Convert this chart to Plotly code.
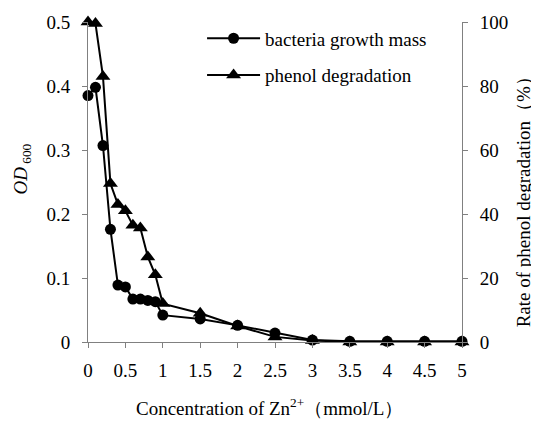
import plotly.graph_objects as go

conc = [0, 0.1, 0.2, 0.3, 0.4, 0.5, 0.6, 0.7, 0.8, 0.9, 1.0, 1.5, 2, 2.5, 3, 3.5, 4, 4.5, 5]
od600 = [0.385, 0.398, 0.307, 0.176, 0.089, 0.086, 0.067, 0.067, 0.065, 0.063, 0.042, 0.036, 0.026, 0.014, 0.003, 0.001, 0.001, 0.001, 0.001]
phenol = [100, 99.5, 83, 49.5, 43, 41, 36.5, 35.6, 26.6, 21, 12, 9, 5, 1.6, 0.5, 0, 0, 0, 0]

x_ticks = [0, 0.5, 1, 1.5, 2, 2.5, 3, 3.5, 4, 4.5, 5]
x_ticklabels = ["0", "0.5", "1", "1.5", "2", "2.5", "3", "3.5", "4", "4.5", "5"]
left_ticks = [0, 0.1, 0.2, 0.3, 0.4, 0.5]
left_ticklabels = ["0", "0.1", "0.2", "0.3", "0.4", "0.5"]
right_ticks = [0, 20, 40, 60, 80, 100]

x_title = "Concentration of Zn<sup>2+</sup>（mmol/L）"
y_title = "<i>OD</i><sub> 600</sub>"
y2_title = "Rate of phenol degradation（%）"

FONT = "Times New Roman, Liberation Serif, DejaVu Serif, serif"

fig = go.Figure()
fig.add_trace(go.Scatter(
    x=conc, y=od600, name="bacteria growth mass", mode="lines+markers",
    line=dict(color="black", width=2),
    marker=dict(symbol="circle", size=11, color="black"),
    cliponaxis=False, legendgroup="a"))
fig.add_trace(go.Scatter(
    x=conc, y=phenol, name="phenol degradation", mode="lines+markers",
    line=dict(color="black", width=2),
    marker=dict(symbol="triangle-up", size=13, color="black"),
    cliponaxis=False, yaxis="y2", legendgroup="b"))

axis_common = dict(showgrid=False, zeroline=False, showline=True, linecolor="#808080",
                   linewidth=1, ticks="outside", tickcolor="#808080", ticklen=5,
                   automargin=False,
                   tickfont=dict(family=FONT, size=19, color="black"))

fig.update_layout(
    template="none",
    width=539, height=421,
    margin=dict(l=80, r=85, t=13, b=87),
    paper_bgcolor="white", plot_bgcolor="white",
    font=dict(family=FONT, size=19, color="black"),
    showlegend=True,
    legend=dict(x=0.305, y=1.005, xanchor="left", yanchor="top",
                bgcolor="rgba(0,0,0,0)", font=dict(family=FONT, size=19),
                tracegroupgap=9, traceorder="grouped", itemwidth=53),
    xaxis=dict(range=[0, 5], tickvals=x_ticks, ticktext=x_ticklabels,
               ticklabelstandoff=6, **axis_common),
    yaxis=dict(range=[0, 0.5], tickvals=left_ticks, ticktext=left_ticklabels,
               ticklabelstandoff=8, **axis_common),
    yaxis2=dict(range=[0, 100], tickvals=right_ticks, overlaying="y", side="right",
                ticklabelstandoff=8, **axis_common),
    annotations=[
        dict(text=x_title, x=0.484, y=-0.2025, xref="paper", yref="paper",
             xanchor="center", yanchor="middle", showarrow=False,
             font=dict(family=FONT, size=19)),
        dict(text=y_title, x=-0.1765, y=0.542, xref="paper", yref="paper",
             xanchor="center", yanchor="middle", showarrow=False, textangle=-90,
             font=dict(family=FONT, size=19)),
        dict(text=y2_title, x=1.163, y=0.452, xref="paper", yref="paper",
             xanchor="center", yanchor="middle", showarrow=False, textangle=-90,
             font=dict(family=FONT, size=19)),
    ],
)

fig.write_html("out.html")
